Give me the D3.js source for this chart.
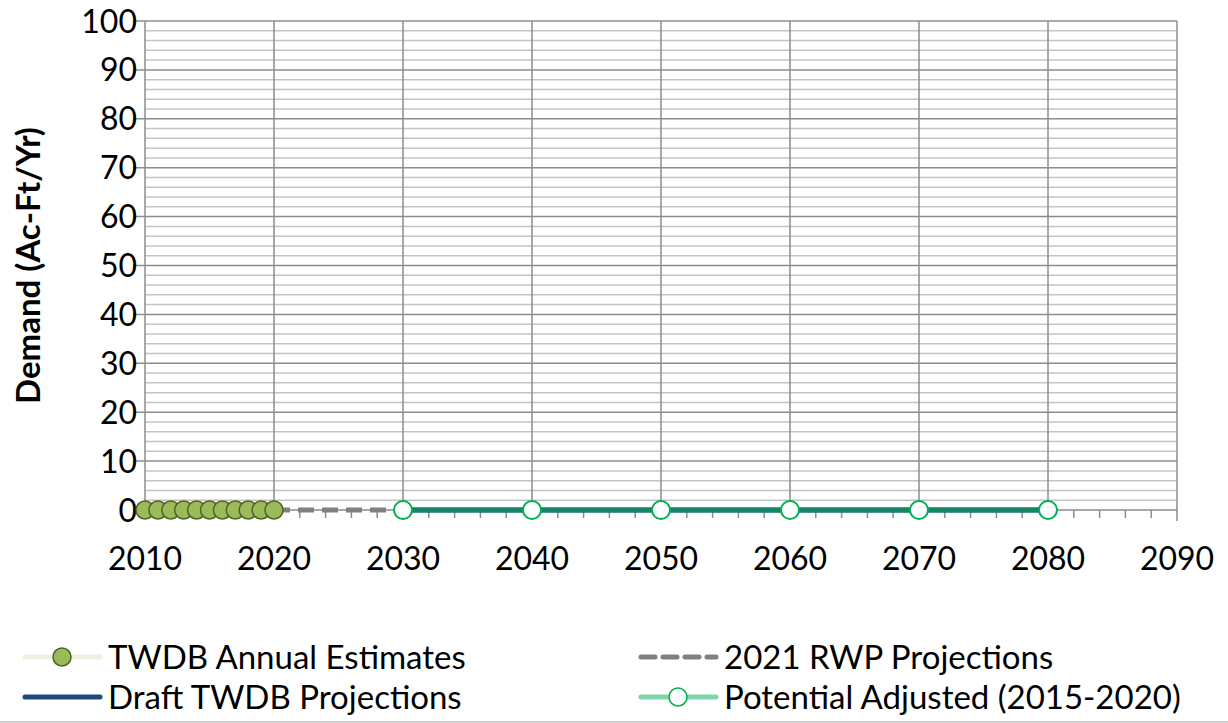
<!DOCTYPE html>
<html>
<head>
<meta charset="utf-8">
<script src="https://cdn.jsdelivr.net/npm/d3@7"></script>
<style>
  body { margin: 0; background: #fff; }
  svg { font-family: Lato, "Liberation Sans", sans-serif; }
</style>
</head>
<body>
<div class="chart"></div>
<script>
// Series data
const annualYears = [2010, 2011, 2012, 2013, 2014, 2015, 2016, 2017, 2018, 2019, 2020];
const annualValues = [0, 0, 0, 0, 0, 0, 0, 0, 0, 0, 0];
const rwpYears = [2020, 2030];
const rwpValues = [0, 0];
const draftYears = [2030, 2040, 2050, 2060, 2070, 2080];
const draftValues = [0, 0, 0, 0, 0, 0];
const adjustedYears = [2030, 2040, 2050, 2060, 2070, 2080];
const adjustedValues = [0, 0, 0, 0, 0, 0];
const xTicks = [2010, 2020, 2030, 2040, 2050, 2060, 2070, 2080, 2090];
const yTicks = [0, 10, 20, 30, 40, 50, 60, 70, 80, 90, 100];

const W = 1228, H = 723;
const margin = { top: 21, right: 51, bottom: 213, left: 145 };
const width = W - margin.left - margin.right;
const height = H - margin.top - margin.bottom;

const svgRoot = d3.select(".chart").append("svg")
    .attr("width", W)
    .attr("height", H);

// bottom border of chart area
svgRoot.append("line")
    .attr("x1", 0).attr("x2", W)
    .attr("y1", H - 1).attr("y2", H - 1)
    .attr("stroke", "#d0d0d0").attr("stroke-width", 2);

const svg = svgRoot.append("g")
    .attr("transform", `translate(${margin.left}, ${margin.top})`);

const x = d3.scaleLinear().domain([2010, 2090]).range([0, width]);
const y = d3.scaleLinear().domain([0, 100]).range([height, 0]);

// minor horizontal gridlines every 2
svg.append("g")
    .selectAll("line")
    .data(d3.range(2, 100, 2).filter(v => v % 10 !== 0))
    .enter().append("line")
    .attr("x1", 0).attr("x2", width)
    .attr("y1", d => y(d)).attr("y2", d => y(d))
    .attr("stroke", "#c4c4c4").attr("stroke-width", 1.5);

// major horizontal gridlines
svg.append("g")
    .selectAll("line")
    .data(yTicks.filter(v => v > 0))
    .enter().append("line")
    .attr("x1", -12).attr("x2", width)
    .attr("y1", d => y(d)).attr("y2", d => y(d))
    .attr("stroke", "#8c8c8c").attr("stroke-width", 1.5);

// vertical gridlines
svg.append("g")
    .selectAll("line")
    .data(xTicks)
    .enter().append("line")
    .attr("x1", d => x(d)).attr("x2", d => x(d))
    .attr("y1", 0).attr("y2", height)
    .attr("stroke", "#8c8c8c").attr("stroke-width", 1.5);

// bottom axis with minor ticks every 2 years
svg.append("g")
    .selectAll("line")
    .data(d3.range(2010, 2091, 2))
    .enter().append("line")
    .attr("x1", d => x(d)).attr("x2", d => x(d))
    .attr("y1", height).attr("y2", d => d === 2090 ? height + 11 : height + 8)
    .attr("stroke", "#8c8c8c").attr("stroke-width", 1.5);

svg.append("line")
    .attr("x1", -12).attr("x2", width)
    .attr("y1", height).attr("y2", height)
    .attr("stroke", "#8c8c8c").attr("stroke-width", 1.5);

// tick labels
svg.append("g")
    .selectAll("text")
    .data(xTicks)
    .enter().append("text")
    .attr("x", d => x(d))
    .attr("y", height + 60)
    .attr("text-anchor", "middle")
    .attr("font-size", 32)
    .text(d => d);

svg.append("g")
    .selectAll("text")
    .data(yTicks)
    .enter().append("text")
    .attr("x", -8)
    .attr("y", d => y(d))
    .attr("dy", "0.36em")
    .attr("text-anchor", "end")
    .attr("font-size", 32)
    .text(d => d);

// axis title
svg.append("text")
    .attr("transform", `translate(${-117}, ${height / 2}) rotate(-90)`)
    .attr("text-anchor", "middle")
    .attr("dy", "0.36em")
    .attr("font-size", 33)
    .attr("font-weight", "bold")
    .text("Demand (Ac-Ft/Yr)");

const line = d3.line().x(d => x(d[0])).y(d => y(d[1]));

// 2021 RWP Projections
svg.append("path")
    .datum(d3.zip(rwpYears, rwpValues))
    .attr("d", line)
    .attr("fill", "none")
    .attr("stroke", "#808080")
    .attr("stroke-width", 5)
    .attr("stroke-dasharray", "16,8");

// Draft TWDB Projections
svg.append("path")
    .datum(d3.zip(draftYears, draftValues))
    .attr("d", line)
    .attr("fill", "none")
    .attr("stroke", "#1f497d")
    .attr("stroke-width", 5);

// Potential Adjusted (line drawn over draft)
svg.append("path")
    .datum(d3.zip(adjustedYears, adjustedValues))
    .attr("d", line)
    .attr("fill", "none")
    .attr("stroke", "#13866a")
    .attr("stroke-width", 5);

svg.append("g")
    .selectAll("circle")
    .data(d3.zip(adjustedYears, adjustedValues))
    .enter().append("circle")
    .attr("cx", d => x(d[0]))
    .attr("cy", d => y(d[1]))
    .attr("r", 9)
    .attr("fill", "#fff")
    .attr("stroke", "#00b050")
    .attr("stroke-width", 2);

// TWDB Annual Estimates markers
svg.append("g")
    .selectAll("circle")
    .data(d3.zip(annualYears, annualValues))
    .enter().append("circle")
    .attr("cx", d => x(d[0]))
    .attr("cy", d => y(d[1]))
    .attr("r", 9)
    .attr("fill", "#9bbb59")
    .attr("stroke", "#4f6228")
    .attr("stroke-width", 1.5);

// Legend
const legendItems = [
    { label: "TWDB Annual Estimates", x: 25, y: 657, line: "#ebf1de", dash: null, marker: { fill: "#9bbb59", stroke: "#4f6228" } },
    { label: "2021 RWP Projections", x: 641, y: 657, line: "#808080", dash: "14,8", marker: null },
    { label: "Draft TWDB Projections", x: 25, y: 697, line: "#1f497d", dash: null, marker: null },
    { label: "Potential Adjusted (2015-2020)", x: 641, y: 697, line: "#7fd4a8", dash: null, marker: { fill: "#fff", stroke: "#00b050" } }
];

const legend = svgRoot.append("g");
legendItems.forEach(item => {
    const g = legend.append("g").attr("transform", `translate(${item.x}, ${item.y})`);
    g.append("line")
        .attr("x1", 0).attr("x2", 75)
        .attr("y1", 0).attr("y2", 0)
        .attr("stroke", item.line)
        .attr("stroke-width", 5)
        .attr("stroke-linecap", "round")
        .attr("stroke-dasharray", item.dash);
    if (item.marker) {
        g.append("circle")
            .attr("cx", 37).attr("cy", 0).attr("r", 9)
            .attr("fill", item.marker.fill)
            .attr("stroke", item.marker.stroke)
            .attr("stroke-width", 1.5);
    }
    g.append("text")
        .attr("x", 83)
        .attr("y", 0)
        .attr("dy", "0.36em")
        .attr("font-size", 33)
        .text(item.label);
});
</script>
</body>
</html>
